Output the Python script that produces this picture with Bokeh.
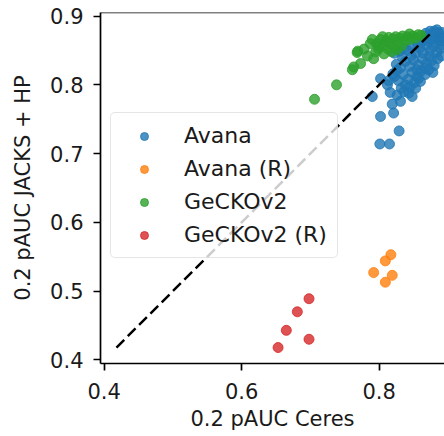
from bokeh.plotting import figure
from bokeh.models import FixedTicker, Range1d, ColumnDataSource, Span
from bokeh.embed import file_html
from bokeh.resources import INLINE

# ---- data ----
avana_x = [0.790, 0.802, 0.801, 0.815, 0.829, 0.821, 0.819, 0.816, 0.831, 0.848, 0.802, 0.814, 0.857,
           0.822, 0.828, 0.835, 0.842, 0.848, 0.855, 0.861, 0.826, 0.838, 0.845, 0.832, 0.851,
           0.825, 0.831, 0.838, 0.844, 0.850, 0.857, 0.863, 0.869, 0.876, 0.834, 0.847, 0.855, 0.866, 0.873, 0.880,
           0.842, 0.848, 0.853, 0.859, 0.864, 0.869, 0.874, 0.879, 0.884, 0.889, 0.856, 0.862, 0.871, 0.881, 0.887, 0.893,
           0.822, 0.830, 0.836,
           0.866, 0.872, 0.878, 0.883, 0.886, 0.880, 0.875, 0.891, 0.868, 0.874, 0.884, 0.892, 0.890, 0.894,
           0.812, 0.820, 0.836, 0.843, 0.826, 0.853, 0.860, 0.867, 0.872, 0.878, 0.885, 0.890]
avana_y = [0.783, 0.754, 0.714, 0.714, 0.733, 0.759, 0.772, 0.789, 0.776, 0.783, 0.809, 0.806, 0.809,
           0.812, 0.806, 0.815, 0.808, 0.818, 0.812, 0.820, 0.821, 0.800, 0.797, 0.795, 0.803,
           0.830, 0.825, 0.834, 0.827, 0.836, 0.829, 0.838, 0.831, 0.835, 0.840, 0.842, 0.822, 0.824, 0.842, 0.828,
           0.850, 0.856, 0.847, 0.853, 0.846, 0.858, 0.850, 0.856, 0.847, 0.853, 0.859, 0.862, 0.864, 0.862, 0.866, 0.858,
           0.846, 0.849, 0.853,
           0.868, 0.871, 0.873, 0.870, 0.876, 0.878, 0.866, 0.871, 0.875, 0.878, 0.880, 0.876, 0.864, 0.868,
           0.800, 0.816, 0.790, 0.788, 0.785, 0.795, 0.805, 0.815, 0.822, 0.818, 0.838, 0.842]

avana_r_x = [0.817, 0.809, 0.792, 0.819, 0.809]
avana_r_y = [0.553, 0.544, 0.527, 0.523, 0.513]

gecko_x = [0.706, 0.738, 0.761, 0.773, 0.769, 0.787, 0.763, 0.768, 0.792, 0.799, 0.807, 0.778, 0.783,
           0.790, 0.796, 0.802, 0.806, 0.810, 0.813, 0.816, 0.820, 0.822, 0.826, 0.830, 0.833, 0.837, 0.841,
           0.845, 0.849, 0.853, 0.857, 0.861, 0.814, 0.824, 0.834, 0.844, 0.818, 0.826, 0.800, 0.795, 0.805]
gecko_y = [0.779, 0.800, 0.822, 0.831, 0.849, 0.860, 0.826, 0.847, 0.838, 0.852, 0.845, 0.852, 0.842,
           0.866, 0.860, 0.866, 0.857, 0.864, 0.852, 0.860, 0.867, 0.855, 0.862, 0.868, 0.857, 0.864, 0.870,
           0.866, 0.871, 0.868, 0.873, 0.872, 0.869, 0.870, 0.871, 0.874, 0.848, 0.851, 0.856, 0.848, 0.870]

gecko_r_x = [0.698, 0.681, 0.665, 0.698, 0.653]
gecko_r_y = [0.489, 0.470, 0.443, 0.430, 0.418]

diag = [0.418, 0.877]

series = [
    ("Avana", avana_x, avana_y, "#1f77b4"),
    ("Avana (R)", avana_r_x, avana_r_y, "#ff7f0e"),
    ("GeCKOv2", gecko_x, gecko_y, "#2ca02c"),
    ("GeCKOv2 (R)", gecko_r_x, gecko_r_y, "#d62728"),
]

x_ticks = [0.4, 0.6, 0.8]
y_ticks = [0.4, 0.5, 0.6, 0.7, 0.8, 0.9]

FONT = "DejaVu Sans"
FS = "21px"
Y_TOP = 0.9052

p = figure(width=444, height=436, output_backend="svg", toolbar_location=None,
           x_range=Range1d(0.3948, 0.895), y_range=Range1d(0.3948, Y_TOP),
           min_border_left=100, min_border_right=0, min_border_top=12, min_border_bottom=73)
p.outline_line_color = None
p.grid.visible = False
p.background_fill_color = "white"
p.border_fill_color = "white"

for name, xs, ys, c in series:
    src = ColumnDataSource(dict(x=xs, y=ys))
    p.scatter("x", "y", source=src, size=10, fill_color=c, fill_alpha=0.8,
              line_color=c, line_alpha=0.8, line_width=1, legend_label=name)

p.line(diag, diag, line_color="black", line_width=2.5, line_dash="11 5")

for ax in (p.xaxis[0], p.yaxis[0]):
    ax.axis_line_width = 1.7
    ax.axis_line_color = "black"
    ax.major_tick_line_width = 1.7
    ax.major_tick_out = 7
    ax.major_tick_in = 0
    ax.minor_tick_line_color = None
    ax.major_label_text_font = FONT
    ax.major_label_text_font_size = FS
    ax.major_label_text_color = "#1a1a1a"
    ax.axis_label_text_font = FONT
    ax.axis_label_text_font_size = FS
    ax.axis_label_text_font_style = "normal"
    ax.axis_label_text_color = "#1a1a1a"

p.xaxis[0].ticker = FixedTicker(ticks=x_ticks)
p.yaxis[0].ticker = FixedTicker(ticks=y_ticks)
p.xaxis[0].axis_label = "0.2 pAUC Ceres"
p.yaxis[0].axis_label = "0.2 pAUC JACKS + HP"
p.xaxis[0].major_label_standoff = 12
p.xaxis[0].axis_label_standoff = 5
p.yaxis[0].major_label_standoff = 10
p.yaxis[0].axis_label_standoff = 12

top_spine = Span(location=Y_TOP, dimension="width", line_color="black", line_width=1.7)
p.add_layout(top_spine)

lg = p.legend[0]
lg.location = (10, 105)
lg.margin = 0
lg.padding = 10
lg.spacing = 8
lg.glyph_width = 46
lg.glyph_height = 20
lg.label_height = 21
lg.label_standoff = 17
lg.label_text_font = FONT
lg.label_text_font_size = "22px"
lg.label_text_color = "#1a1a1a"
lg.border_line_color = "#cccccc"
lg.border_line_width = 1.5
lg.border_radius = 5
lg.background_fill_color = "white"
lg.background_fill_alpha = 0.8

open("out.html", "w").write(file_html(p, INLINE))
